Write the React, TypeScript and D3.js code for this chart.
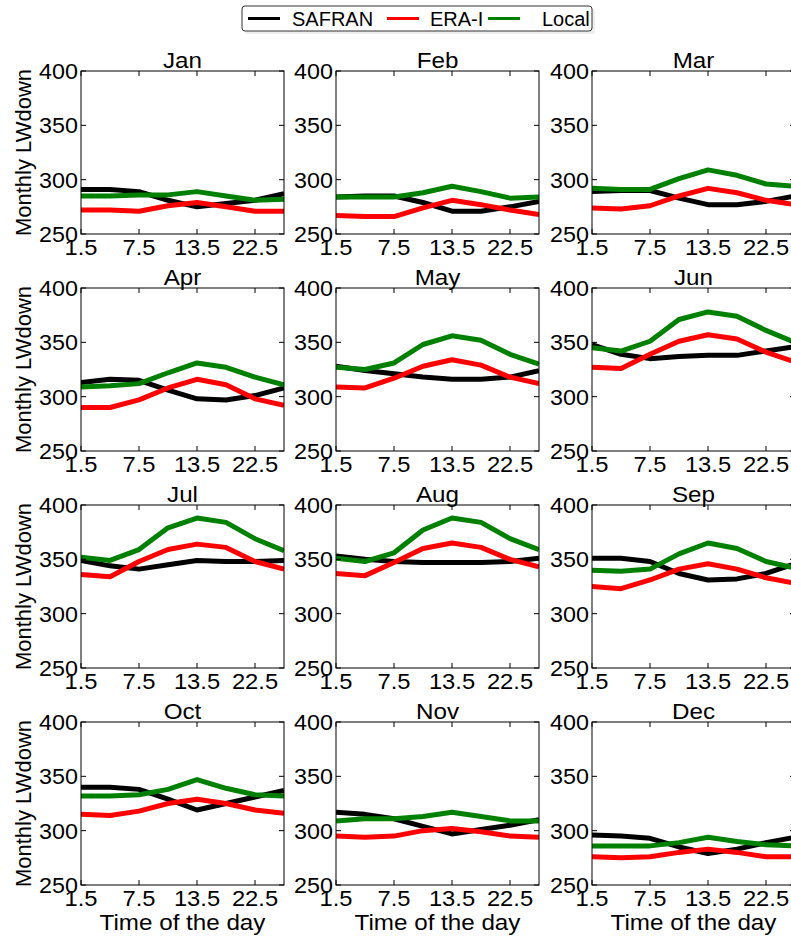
import React from "react";
import * as d3 from "d3";

const months = ["Jan", "Feb", "Mar", "Apr", "May", "Jun", "Jul", "Aug", "Sep", "Oct", "Nov", "Dec"];
const hourIndex = [0, 1, 2, 3, 4, 5, 6, 7];
const xTickIndex = [0, 2, 4, 6];
const xTickLabels = ["1.5", "7.5", "13.5", "22.5"];
const yTicks = [250, 300, 350, 400];
const seriesNames = ["SAFRAN", "ERA-I", "Local"];
const seriesColors = ["#000000", "#ff0000", "#008000"];

const safran = [
  [291, 291, 289, 281, 275, 278, 281, 287],
  [284, 285, 285, 279, 271, 271, 275, 280],
  [289, 290, 290, 283, 277, 277, 280, 285],
  [313, 316, 315, 306, 298, 297, 301, 308],
  [328, 324, 321, 318, 316, 316, 318, 324],
  [348, 339, 335, 337, 338, 338, 342, 346],
  [349, 344, 341, 345, 349, 348, 348, 349],
  [353, 350, 348, 347, 347, 347, 348, 351],
  [351, 351, 348, 337, 331, 332, 337, 346],
  [340, 340, 338, 329, 319, 325, 331, 337],
  [317, 315, 311, 304, 297, 301, 305, 310],
  [296, 295, 293, 285, 279, 283, 289, 294],
];
const eraI = [
  [272, 272, 271, 276, 279, 275, 271, 271],
  [267, 266, 266, 274, 281, 277, 272, 268],
  [274, 273, 276, 285, 292, 288, 281, 277],
  [290, 290, 297, 308, 316, 311, 298, 292],
  [309, 308, 317, 328, 334, 329, 318, 312],
  [327, 326, 339, 351, 357, 353, 341, 332],
  [336, 334, 348, 359, 364, 361, 348, 341],
  [337, 335, 347, 360, 365, 361, 350, 343],
  [325, 323, 331, 341, 346, 341, 333, 328],
  [315, 314, 318, 325, 329, 325, 319, 316],
  [295, 294, 295, 300, 302, 299, 295, 294],
  [276, 275, 276, 280, 283, 280, 276, 276],
];
const local = [
  [285, 285, 286, 286, 289, 285, 281, 282],
  [284, 284, 284, 288, 294, 289, 283, 284],
  [292, 291, 291, 301, 309, 304, 296, 294],
  [309, 310, 312, 322, 331, 327, 318, 311],
  [327, 325, 331, 348, 356, 352, 339, 330],
  [345, 342, 351, 371, 378, 374, 361, 350],
  [352, 349, 359, 379, 388, 384, 369, 358],
  [351, 348, 356, 377, 388, 384, 369, 359],
  [340, 339, 341, 355, 365, 360, 348, 342],
  [332, 332, 333, 338, 347, 339, 333, 332],
  [309, 311, 311, 313, 317, 313, 309, 309],
  [286, 286, 286, 289, 294, 290, 287, 286],
];

const W = 791;
const H = 938;
const colLeft = [81, 336, 592];
const rowTop = [71, 288, 505, 722];
const PW = 203;
const PH = 163;
const FONT = "'Liberation Sans', Arial, sans-serif";
const tickFs = 22;

function SText({
  x,
  y,
  sx,
  fs,
  anchor,
  children,
}: {
  x: number;
  y: number;
  sx: number;
  fs: number;
  anchor: "start" | "middle" | "end";
  children: React.ReactNode;
}) {
  return (
    <text
      transform={`translate(${x},${y}) scale(${sx},1)`}
      textAnchor={anchor}
      fontSize={fs}
      fontFamily={FONT}
      fill="#000"
    >
      {children}
    </text>
  );
}

function Panel({ m }: { m: number }) {
  const col = m % 3;
  const row = Math.floor(m / 3);
  const x0 = colLeft[col];
  const y0 = rowTop[row];
  const x = d3.scaleLinear().domain([0, 7]).range([0, PW]);
  const y = d3.scaleLinear().domain([250, 400]).range([PH, 0]);
  const line = d3
    .line<number>()
    .x((_, i) => x(hourIndex[i]))
    .y((v) => y(v));
  const data = [safran[m], eraI[m], local[m]];
  const clipId = `clip${m}`;
  return (
    <g transform={`translate(${x0},${y0})`}>
      <defs>
        <clipPath id={clipId}>
          <rect x={0} y={0} width={PW} height={PH} />
        </clipPath>
      </defs>
      <g clipPath={`url(#${clipId})`}>
        {data.map((d, i) => (
          <path
            key={i}
            d={line(d) || ""}
            fill="none"
            stroke={seriesColors[i]}
            strokeWidth={5}
            strokeLinejoin="round"
          />
        ))}
      </g>
      <rect x={0} y={0} width={PW} height={PH} fill="none" stroke="#000" strokeWidth={1} />
      {xTickIndex.map((t, i) => (
        <g key={"x" + i}>
          <line x1={x(t)} x2={x(t)} y1={PH} y2={PH - 5} stroke="#000" />
          <line x1={x(t)} x2={x(t)} y1={0} y2={5} stroke="#000" />
          <SText x={x(t)} y={PH + 21} sx={1.08} fs={tickFs} anchor="middle">
            {xTickLabels[i]}
          </SText>
        </g>
      ))}
      {yTicks.map((t, i) => (
        <g key={"y" + i}>
          <line x1={0} x2={5} y1={y(t)} y2={y(t)} stroke="#000" />
          <line x1={PW} x2={PW - 5} y1={y(t)} y2={y(t)} stroke="#000" />
          <SText x={-3} y={y(t) + 8} sx={1.06} fs={tickFs} anchor="end">
            {t}
          </SText>
        </g>
      ))}
      <SText x={PW / 2} y={-3} sx={1.1} fs={22} anchor="middle">
        {months[m]}
      </SText>
      {col === 0 && (
        <text
          transform={`translate(${31 - x0},${PH / 2}) rotate(-90)`}
          textAnchor="middle"
          fontSize={22}
          fontFamily={FONT}
        >
          Monthly LWdown
        </text>
      )}
      {row === 3 && (
        <SText x={PW / 2} y={PH + 45} sx={1.1} fs={22} anchor="middle">
          Time of the day
        </SText>
      )}
    </g>
  );
}

function Legend() {
  const items = [
    { lx: 248, tx: 292 },
    { lx: 387, tx: 430 },
    { lx: 488, tx: 542 },
  ];
  return (
    <g>
      <rect x={245} y={9} width={350} height={25} rx={3} fill="#ddd" opacity={0.5} />
      <rect x={242} y={6} width={350} height={25} rx={3} fill="#fff" stroke="#333" strokeWidth={1} />
      {items.map((it, i) => (
        <g key={i}>
          <line x1={it.lx} x2={it.lx + 32} y1={18.5} y2={18.5} stroke={seriesColors[i]} strokeWidth={3} />
          <text x={it.tx} y={26} fontSize={20} fontFamily={FONT}>
            {seriesNames[i]}
          </text>
        </g>
      ))}
    </g>
  );
}

export default function App() {
  return (
    <svg
      width={W}
      height={H}
      style={{ position: "absolute", left: 0, top: 0, background: "#fff" }}
    >
      <rect x={0} y={0} width={W} height={H} fill="#fff" />
      {months.map((_, m) => (
        <Panel key={m} m={m} />
      ))}
      <Legend />
    </svg>
  );
}
